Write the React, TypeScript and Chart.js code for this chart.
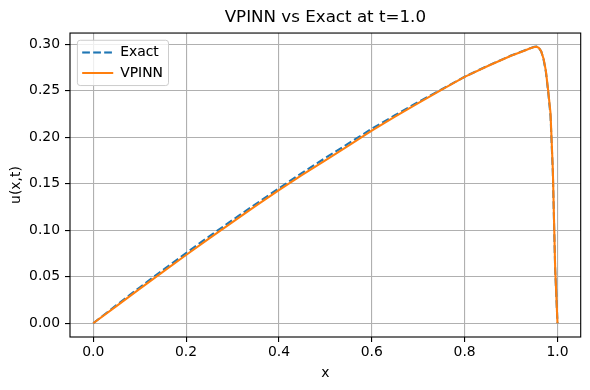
import React, { useEffect, useRef } from "react";
import { Chart, registerables } from "chart.js";

Chart.register(...registerables);

// ---- data ----
const xValues = [
  0, 0.05, 0.1, 0.15, 0.2, 0.25, 0.3, 0.35, 0.4, 0.45, 0.5, 0.55, 0.6, 0.65, 0.7, 0.75, 0.8, 0.85, 0.9,
  0.92, 0.93, 0.94, 0.95, 0.955, 0.96, 0.965, 0.97, 0.975, 0.98, 0.985, 0.99, 0.995, 1.0,
];
const exactValues = [
  0, 0.0195, 0.0385, 0.0572, 0.0755, 0.0935, 0.111, 0.1282, 0.1452, 0.1618, 0.1778, 0.1935, 0.2092, 0.2238,
  0.238, 0.2515, 0.2652, 0.277, 0.288,
  0.2917, 0.2936, 0.2956, 0.2973, 0.2976, 0.2962, 0.2923, 0.284, 0.2705, 0.249, 0.223, 0.162, 0.058, 0,
];
const vpinnValues = [
  0, 0.0185, 0.037, 0.0553, 0.0734, 0.0912, 0.1088, 0.1262, 0.1433, 0.1595, 0.1752, 0.1912, 0.2071, 0.2222,
  0.2367, 0.251, 0.265, 0.2768, 0.2878,
  0.2916, 0.2935, 0.2955, 0.2972, 0.2975, 0.2962, 0.2925, 0.2845, 0.2715, 0.25, 0.226, 0.165, 0.06, 0,
];
const xTickValues = [0, 0.2, 0.4, 0.6, 0.8, 1.0];
const yTickValues = [0, 0.05, 0.1, 0.15, 0.2, 0.25, 0.3];
const seriesLabels = ["Exact", "VPINN"];
const titleText = "VPINN vs Exact at t=1.0";
const xAxisLabel = "x";
const yAxisLabel = "u(x,t)";

// ---- styling ----
const FONT = "'DejaVu Sans', 'Liberation Sans', sans-serif";
const FS = 13.9;
const TITLE_FS = 16.7;
const LW = 2.08;
const LEG_LEFT = 75.5;
const LEG_TOP = 38.8;
const LEG_PAD = 6.7;
const LEG_LINE = 31;

const mplPlugin = {
  id: "mplFrame",
  afterLayout(chart: any) {
    const lg = chart.legend;
    if (lg) {
      lg.left = LEG_LEFT;
      lg.top = LEG_TOP;
      lg.right = chart.chartArea.right;
      lg.bottom = chart.chartArea.bottom;
    }
  },
  afterDatasetsDraw(chart: any) {
    const lg = chart.legend;
    if (!lg || !lg.legendItems) return;
    const ctx = chart.ctx;
    ctx.save();
    ctx.font = `${FS}px ${FONT}`;
    const maxW = Math.max(...lg.legendItems.map((it: any) => ctx.measureText(it.text).width));
    const lineStart = LEG_LEFT + LEG_PAD;
    const textX = lineStart + LEG_LINE + FS / 2;
    const n = lg.legendItems.length;
    const firstMid = LEG_TOP + LEG_PAD + FS / 2;
    const lastMid = firstMid + (n - 1) * (FS + LEG_PAD);
    const x0 = lineStart - 4.8;
    const x1 = textX + maxW + 5.6;
    const y0 = firstMid - 12.2;
    const y1 = lastMid + 12.5;
    const r = 2.8;
    ctx.beginPath();
    ctx.moveTo(x0 + r, y0);
    ctx.lineTo(x1 - r, y0);
    ctx.quadraticCurveTo(x1, y0, x1, y0 + r);
    ctx.lineTo(x1, y1 - r);
    ctx.quadraticCurveTo(x1, y1, x1 - r, y1);
    ctx.lineTo(x0 + r, y1);
    ctx.quadraticCurveTo(x0, y1, x0, y1 - r);
    ctx.lineTo(x0, y0 + r);
    ctx.quadraticCurveTo(x0, y0, x0 + r, y0);
    ctx.closePath();
    ctx.fillStyle = "rgba(255,255,255,0.8)";
    ctx.fill();
    ctx.lineWidth = 1;
    ctx.strokeStyle = "#cccccc";
    ctx.stroke();
    ctx.restore();
    lg.draw();
  },
  afterDraw(chart: any) {
    const { ctx, chartArea } = chart;
    ctx.save();
    ctx.lineWidth = 1.11;
    ctx.strokeStyle = "#000";
    ctx.strokeRect(chartArea.left, chartArea.top, chartArea.right - chartArea.left, chartArea.bottom - chartArea.top);
    ctx.restore();
  },
};

export default function App() {
  const ref = useRef<HTMLCanvasElement | null>(null);

  useEffect(() => {
    document.body.style.margin = "0";
    if (!ref.current) return;
    const font = { family: FONT, size: FS };
    const chart = new Chart(ref.current, {
      type: "line",
      data: {
        datasets: [
          {
            label: seriesLabels[0],
            data: xValues.map((x, i) => ({ x, y: exactValues[i] })),
            borderColor: "#1f77b4",
            backgroundColor: "#1f77b4",
            borderWidth: LW,
            borderDash: [7.7, 3.3],
            pointRadius: 0,
            tension: 0,
            fill: false,
            order: 1,
          },
          {
            label: seriesLabels[1],
            data: xValues.map((x, i) => ({ x, y: vpinnValues[i] })),
            borderColor: "#ff7f0e",
            backgroundColor: "#ff7f0e",
            borderWidth: LW,
            borderJoinStyle: "round",
            pointRadius: 0,
            tension: 0,
            fill: false,
            order: 0,
          },
        ],
      },
      options: {
        responsive: false,
        animation: false,
        events: [],
        layout: { padding: { left: 0, right: 9.3, top: 0, bottom: 0 } },
        plugins: {
          tooltip: { enabled: false },
          title: {
            display: true,
            text: titleText,
            fullSize: false,
            color: "#000",
            font: { family: FONT, size: TITLE_FS, weight: "normal" },
            padding: { top: 8, bottom: 5 },
          },
          legend: {
            display: true,
            position: "chartArea",
            align: "start",
            labels: {
              usePointStyle: true,
              pointStyleWidth: LEG_LINE,
              padding: LEG_PAD,
              color: "#000",
              font,
              generateLabels: (c: any) =>
                c.data.datasets.map((ds: any, i: number) => ({
                  text: ds.label,
                  datasetIndex: i,
                  hidden: false,
                  strokeStyle: ds.borderColor,
                  fillStyle: ds.borderColor,
                  lineWidth: ds.borderWidth,
                  lineDash: ds.borderDash || [],
                  lineCap: "butt",
                  pointStyle: "line",
                })),
            },
          },
        },
        scales: {
          x: {
            type: "linear",
            min: -0.05,
            max: 1.05,
            afterBuildTicks: (s: any) => {
              s.ticks = xTickValues.map((v) => ({ value: v }));
            },
            afterFit: (s: any) => {
              s.height = 53;
            },
            ticks: {
              callback: (v: any) => Number(v).toFixed(1),
              font,
              color: "#000",
              padding: 2.5,
              autoSkip: false,
              maxRotation: 0,
            },
            grid: { color: "#b0b0b0", lineWidth: 1.11, tickColor: "#000", tickLength: 5, tickWidth: 1.11 },
            border: { display: false },
            title: { display: true, text: xAxisLabel, color: "#000", font, padding: { top: 0, bottom: 8.5 } },
          },
          y: {
            type: "linear",
            min: -0.0148,
            max: 0.3122,
            afterBuildTicks: (s: any) => {
              s.ticks = yTickValues.map((v) => ({ value: v }));
            },
            afterFit: (s: any) => {
              s.width = 70;
            },
            ticks: {
              callback: (v: any) => Number(v).toFixed(2),
              font,
              color: "#000",
              padding: 5,
              autoSkip: false,
            },
            grid: { color: "#b0b0b0", lineWidth: 1.11, tickColor: "#000", tickLength: 5, tickWidth: 1.11 },
            border: { display: false },
            title: { display: true, text: yAxisLabel, color: "#000", font, padding: { top: 7.8, bottom: 0 } },
          },
        },
      } as any,
      plugins: [mplPlugin as any],
    });
    return () => chart.destroy();
  }, []);

  return (
    <div style={{ width: 590, height: 390 }}>
      <canvas ref={ref} width={590} height={390} />
    </div>
  );
}
